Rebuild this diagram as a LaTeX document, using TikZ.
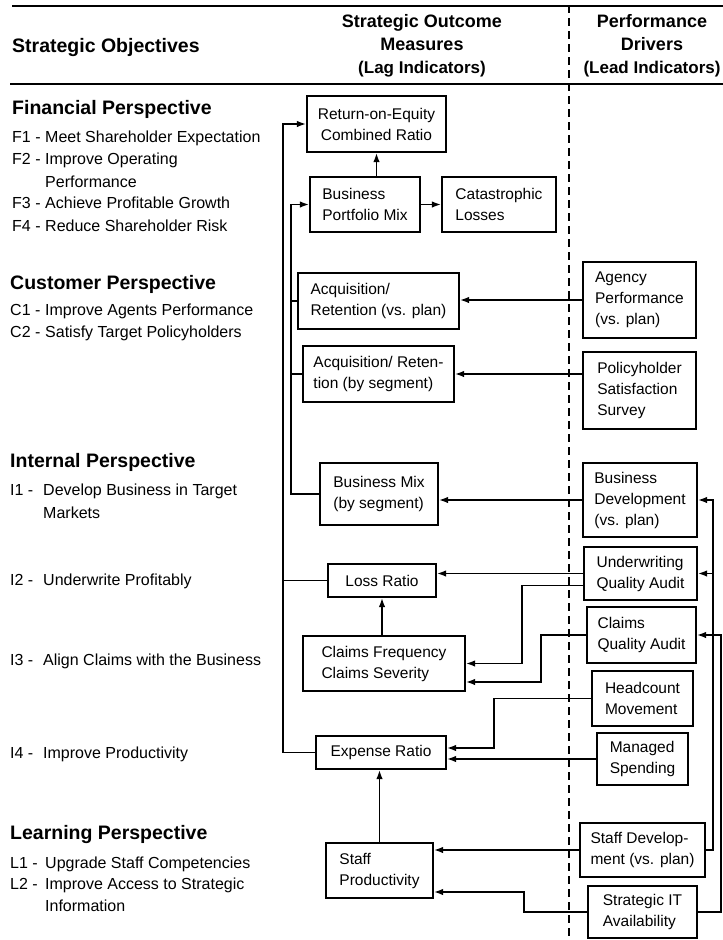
\documentclass[tikz,border=0pt]{standalone}
\usepackage{fontspec}
\setmainfont{Liberation Sans}
\usepackage{xcolor}
\usepackage{tikz}
\usetikzlibrary{arrows.meta}
\tikzset{
  hdr/.style={font=\fontsize{18}{23}\selectfont\bfseries, align=center, inner sep=0pt},
  persp/.style={font=\fontsize{19.5}{22}\selectfont\bfseries, anchor=base west, inner sep=0pt},
  obj/.style={font=\fontsize{16}{22}\selectfont, anchor=base west, inner sep=0pt},
  mbox/.style={draw, line width=2.2pt, font=\fontsize{15.5}{21}\selectfont, align=left, inner sep=0pt},
  link/.style={line width=1.4pt, -{Latex[length=9pt, width=6.5pt]}},
  wire/.style={line width=1.4pt},
  hrule/.style={line width=2pt},
  divider/.style={line width=1.6pt, dash pattern=on 8pt off 5pt},
}
\newcommand{\measbox}[7][]{\node[mbox, #1, minimum width={#5-#3}, minimum height={#6-#4}] (#2) at ({(#3+#5)/2},{(#4+#6)/2}) {#7};}

\begin{document}
\begin{tikzpicture}[x=1pt, y=-1pt]
\useasboundingbox (0,0) rectangle (723,940);
% header
\draw[hrule] (12,6) -- (723,6);
\draw[hrule] (10,84) -- (723,84);
\draw[divider] (569,5) -- (569,940);
\node[persp] (hobj) at (12,52) {Strategic Objectives};
\node[hdr] (hlag) at (422,46) {Strategic Outcome\\Measures\\{\fontsize{17}{23}\selectfont(Lag Indicators)}};
\node[hdr] (hlead) at (652,46) {Performance\\Drivers\\{\fontsize{17}{23}\selectfont(Lead Indicators)}};
% objectives
\node[persp] (fin) at (12,114) {Financial Perspective};
\node[obj] (f1) at (12,142.5) {F1 -}; \node[obj] (f1t) at (45,142.5) {Meet Shareholder Expectation};
\node[obj] (f2) at (12,164.5) {F2 -}; \node[obj] (f2t) at (45,164.5) {Improve Operating};
\node[obj] (f2b) at (45,187.5) {Performance};
\node[obj] (f3) at (12,208.5) {F3 -}; \node[obj] (f3t) at (45,208.5) {Achieve Profitable Growth};
\node[obj] (f4) at (12,231.5) {F4 -}; \node[obj] (f4t) at (45,231.5) {Reduce Shareholder Risk};
\node[persp] (cus) at (10,289) {Customer Perspective};
\node[obj] (c1) at (10,315.5) {C1 -}; \node[obj] (c1t) at (45,315.5) {Improve Agents Performance};
\node[obj] (c2) at (10,337.5) {C2 -}; \node[obj] (c2t) at (45,337.5) {Satisfy Target Policyholders};
\node[persp] (int) at (10,467) {Internal Perspective};
\node[obj] (i1) at (10,495.5) {I1 -}; \node[obj] (i1t) at (43,495.5) {Develop Business in Target};
\node[obj] (i1b) at (43,518.5) {Markets};
\node[obj] (i2) at (10,585.5) {I2 -}; \node[obj] (i2t) at (43,585.5) {Underwrite Profitably};
\node[obj] (i3) at (10,665.5) {I3 -}; \node[obj] (i3t) at (43,665.5) {Align Claims with the Business};
\node[obj] (i4) at (10,758.5) {I4 -}; \node[obj] (i4t) at (43,758.5) {Improve Productivity};
\node[persp] (lrn) at (10,839) {Learning Perspective};
\node[obj] (l1) at (10,868.5) {L1 -}; \node[obj] (l1t) at (45,868.5) {Upgrade Staff Competencies};
\node[obj] (l2) at (10,889.5) {L2 -}; \node[obj] (l2t) at (45,889.5) {Improve Access to Strategic};
\node[obj] (l2b) at (45,911.5) {Information};
% lag measures
\measbox[align=center]{roe}{307}{96}{446}{152}{Return-on-Equity\\Combined Ratio}
\measbox{bpm}{310}{177}{420}{232}{Business\\Portfolio Mix}
\measbox{cat}{442}{177}{556}{232}{Catastrophic\\Losses}
\measbox{acqplan}{298}{273}{459}{329}{Acquisition/\\Retention (vs. plan)}
\measbox{acqseg}{303}{346}{454}{402}{Acquisition/ Reten-\\tion (by segment)}
\measbox{bizmix}{320}{463}{438}{525}{Business Mix\\(by segment)}
\measbox{loss}{328}{564}{436}{597}{Loss Ratio}
\measbox{claims}{303}{636}{465}{691}{Claims Frequency\\Claims Severity}
\measbox{expense}{316}{736}{446}{769}{Expense Ratio}
\measbox{staffprod}{326}{843}{433}{898}{Staff\\Productivity}
% lead drivers
\measbox{agency}{583}{262}{696}{338}{Agency\\Performance\\(vs. plan)}
\measbox{policy}{583}{352}{696}{429}{Policyholder\\Satisfaction\\Survey}
\measbox{bizdev}{583}{463}{697}{537}{Business\\Development\\(vs. plan)}
\measbox{uw}{584}{547}{697}{600}{Underwriting\\Quality Audit}
\measbox{claimsqa}{587}{607}{696}{663}{Claims\\Quality Audit}
\measbox{headcount}{592}{671}{693}{726}{Headcount\\Movement}
\measbox{managed}{597}{733}{688}{785}{Managed\\Spending}
\measbox{staffdev}{580}{823}{705}{877}{Staff Develop-\\ment (vs. plan)}
\measbox{stratit}{588}{886}{697}{938}{Strategic IT\\Availability}
% bend columns
\coordinate (busout) at (283,0);
\coordinate (busin) at (291,0);
\coordinate (hcbend) at (494,0);
\coordinate (uwbend) at (522,0);
\coordinate (itbend) at (524,0);
\coordinate (cqbend) at (541,0);
\coordinate (fbone) at (713,0);
\coordinate (fbtwo) at (721,0);
\coordinate (uwout) at ([yshift=-12pt]uw.west);
\coordinate (clin) at ([yshift=-18.5pt]claims.east);
\coordinate (expin) at ([yshift=4.5pt]expense.east);
\coordinate (spin) at ([yshift=-21.5pt]staffprod.east);
% left buses
\draw[link] (expense.west) -| (busout |- roe.west) -- (roe.west);
\draw[wire] (loss.west) -- (busout |- loss.west);
\draw[link] (bizmix.west) -| (busin |- bpm.west) -- (bpm.west);
\draw[wire] (acqplan.west) -- (busin |- acqplan.west);
\draw[wire] (acqseg.west) -- (busin |- acqseg.west);
% measure to measure
\draw[link] (roe.south |- bpm.north) -- (roe.south);
\draw[link] (bpm.east) -- (bpm.east -| cat.west);
\draw[link] (loss.south |- claims.north) -- (loss.south);
\draw[link] (staffprod.north) -- (staffprod.north |- expense.south);
% drivers to measures
\draw[link] (agency.west) -- (agency.west -| acqplan.east);
\draw[link] (acqseg.east -| policy.west) -- (acqseg.east);
\draw[link] (bizdev.west) -- (bizdev.west -| bizmix.east);
\draw[link] (uw.west) -- (uw.west -| loss.east);
\draw[link] (uwout) -| (uwbend |- claims.east) -- (claims.east);
\draw[link] (claimsqa.west) -| (cqbend |- clin) -- (clin);
\draw[link] (headcount.west) -| (hcbend |- expin) -- (expin);
\draw[link] (managed.west) -- (managed.west -| expense.east);
\draw[link] (staffdev.west) -- (staffdev.west -| staffprod.east);
\draw[link] (stratit.west) -| (itbend |- spin) -- (spin);
% feedback on the right
\draw[link] (staffdev.east) -| (fbone |- bizdev.east) -- (bizdev.east);
\draw[link] (fbone |- uw.east) -- (uw.east);
\draw[link] (stratit.east) -| (fbtwo |- claimsqa.east) -- (claimsqa.east);
\end{tikzpicture}
\end{document}
